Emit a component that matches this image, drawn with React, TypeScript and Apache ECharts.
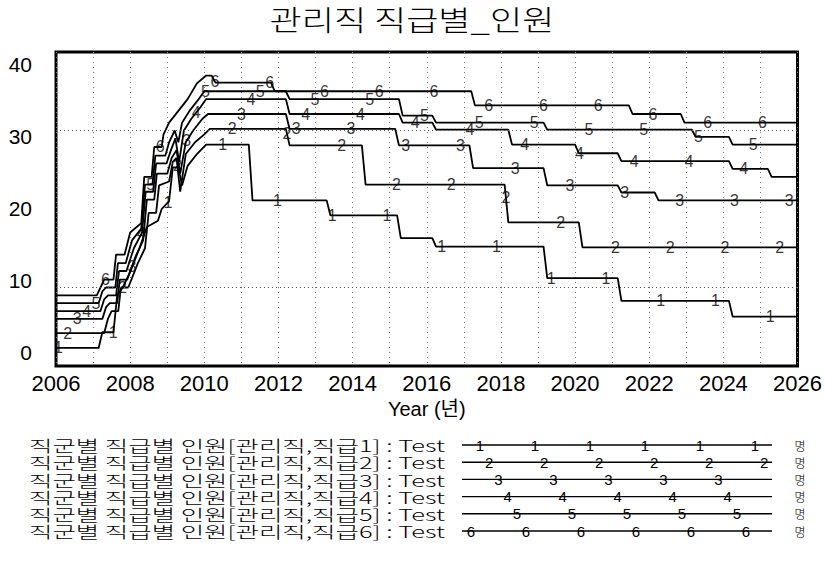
import React, { useEffect, useRef } from 'react';
import * as echarts from 'echarts';

const chartTitle = '관리직 직급별_인원';
const xAxisName = 'Year (년)';
const runName = 'Test';
const unitLabel = '명';
const seriesNames = [
  '직군별 직급별 인원[관리직,직급1]',
  '직군별 직급별 인원[관리직,직급2]',
  '직군별 직급별 인원[관리직,직급3]',
  '직군별 직급별 인원[관리직,직급4]',
  '직군별 직급별 인원[관리직,직급5]',
  '직군별 직급별 인원[관리직,직급6]',
];
const yTicks = [0, 10, 20, 30, 40];
const gridValues = [10, 30];

const s1: [number, number][] = [
  [2006, 2.3], [2007.15, 2.3], [2007.25, 4.3], [2007.55, 4.3], [2007.65, 9.0], [2007.8, 10.0],
  [2008.0, 12.0], [2008.25, 15.0], [2008.45, 17.7], [2008.75, 18.5], [2008.85, 20.0], [2009.05, 21.0],
  [2009.15, 25.3], [2009.3, 25.3], [2009.4, 23.0], [2009.55, 25.5], [2009.8, 27.0], [2010.05, 28.2],
  [2011.2, 28.2], [2011.3, 21.1], [2013.3, 21.1], [2013.4, 19.2], [2015.2, 19.2], [2015.3, 16.3],
  [2016.15, 16.3], [2016.25, 15.2], [2019.15, 15.2], [2019.25, 11.2], [2021.15, 11.2], [2021.25, 8.3],
  [2024.15, 8.3], [2024.25, 6.3], [2026, 6.3],
];
const s2: [number, number][] = [
  [2006, 4.2], [2007.3, 4.2], [2007.4, 6.0], [2007.5, 7.0], [2007.68, 7.0], [2007.75, 10.0],
  [2007.95, 10.0], [2008.2, 13.0], [2008.4, 15.0], [2008.5, 19.5], [2008.7, 19.5], [2008.78, 23.0],
  [2009.05, 23.5], [2009.15, 26.0], [2009.25, 26.5], [2009.35, 22.2], [2009.5, 27.0], [2009.75, 28.5],
  [2010.0, 29.5], [2010.15, 30.2], [2012.2, 30.2], [2012.3, 28.1], [2014.25, 28.1], [2014.35, 23.1],
  [2018.1, 23.1], [2018.2, 18.3], [2020.1, 18.3], [2020.2, 15.1], [2026, 15.1],
];
const s3: [number, number][] = [
  [2006, 6.0], [2007.25, 6.0], [2007.35, 7.5], [2007.45, 8.0], [2007.65, 8.0], [2007.72, 11.0],
  [2007.92, 11.0], [2008.15, 14.0], [2008.35, 16.0], [2008.45, 21.2], [2008.65, 21.2], [2008.72, 24.5],
  [2009.0, 24.5], [2009.12, 26.5], [2009.25, 27.5], [2009.35, 24.5], [2009.5, 28.5], [2009.7, 30.0],
  [2009.95, 31.5], [2010.1, 32.1], [2012.2, 32.1], [2012.3, 30.2], [2015.15, 30.2], [2015.25, 28.1],
  [2017.15, 28.1], [2017.25, 25.2], [2019.15, 25.2], [2019.25, 23.0], [2021.15, 23.0], [2021.25, 22.1],
  [2022.15, 22.1], [2022.25, 21.1], [2026, 21.1],
];
const s4: [number, number][] = [
  [2006, 7.0], [2007.2, 7.0], [2007.3, 8.5], [2007.4, 9.0], [2007.62, 9.0], [2007.7, 12.1],
  [2007.9, 12.1], [2008.1, 15.0], [2008.32, 17.0], [2008.42, 22.2], [2008.62, 22.2], [2008.7, 25.8],
  [2008.98, 25.8], [2009.1, 27.5], [2009.22, 29.0], [2009.32, 26.0], [2009.45, 30.0], [2009.65, 31.5],
  [2009.9, 33.0], [2010.05, 34.0], [2012.2, 34.0], [2012.3, 32.1], [2015.25, 32.1], [2015.35, 31.0],
  [2016.15, 31.0], [2016.25, 30.1], [2018.2, 30.1], [2018.3, 28.2], [2020.0, 28.2], [2020.1, 27.1],
  [2021.15, 27.1], [2021.25, 26.1], [2024.15, 26.1], [2024.25, 25.1], [2025.2, 25.1], [2025.3, 24.1],
  [2026, 24.1],
];
const s5: [number, number][] = [
  [2006, 8.0], [2007.15, 8.0], [2007.25, 9.5], [2007.35, 10.0], [2007.6, 10.0], [2007.67, 13.1],
  [2007.88, 13.1], [2008.05, 16.0], [2008.3, 17.5], [2008.4, 23.1], [2008.6, 23.1], [2008.68, 26.8],
  [2008.95, 26.8], [2009.05, 28.5], [2009.2, 30.0], [2009.3, 28.5], [2009.4, 31.0], [2009.6, 32.5],
  [2009.85, 34.0], [2010.0, 35.0], [2012.2, 35.0], [2012.3, 34.0], [2015.25, 34.0], [2015.35, 31.9],
  [2016.15, 31.9], [2016.25, 31.0], [2019.15, 31.0], [2019.25, 30.1], [2023.15, 30.1], [2023.25, 29.2],
  [2024.15, 29.2], [2024.25, 28.2], [2026, 28.2],
];
const s6: [number, number][] = [
  [2006, 9.0], [2007.1, 9.0], [2007.2, 10.0], [2007.3, 11.0], [2007.55, 11.0], [2007.62, 14.2],
  [2007.85, 14.2], [2008.0, 17.0], [2008.3, 18.2], [2008.38, 24.1], [2008.58, 24.1], [2008.65, 27.9],
  [2008.85, 27.9], [2008.9, 29.5], [2009.05, 31.0], [2009.3, 32.5], [2009.55, 34.0], [2009.8, 36.0],
  [2010.05, 37.0], [2010.2, 37.0], [2010.3, 36.1], [2011.8, 36.1], [2011.9, 35.0], [2017.2, 35.0],
  [2017.3, 33.2], [2021.45, 33.2], [2021.55, 32.1], [2022.85, 32.1], [2022.95, 31.0], [2026, 31.0],
];
const seriesData = [s1, s2, s3, s4, s5, s6];

// marker (series number) placement along the time axis
const markerStart = 2006.065;
const markerOffset = 0.2534;
const markerStep = 1.477;
// legend sample line markers (pixel layout)
const legendMarkerStart = 480;
const legendMarkerOffset = 9.2;
const legendMarkerStep = 55;

function valueAt(pts: [number, number][], t: number): number {
  for (let i = 0; i < pts.length - 1; i++) {
    const [t0, v0] = pts[i];
    const [t1, v1] = pts[i + 1];
    if (t >= t0 && t <= t1) {
      if (t1 === t0) return v1;
      return v0 + ((v1 - v0) * (t - t0)) / (t1 - t0);
    }
  }
  return pts[pts.length - 1][1];
}

function measure(text: string, font: string): number {
  const ctx = document.createElement('canvas').getContext('2d');
  if (!ctx) return text.length * 10;
  ctx.font = font;
  return ctx.measureText(text).width;
}

const KR = '"Noto Sans CJK KR", "Noto Sans", sans-serif';
const NUM = '"Liberation Sans", Arial, sans-serif';

export default function App() {
  const ref = useRef<HTMLDivElement>(null);
  useEffect(() => {
    if (!ref.current) return;
    const chart = echarts.init(ref.current, undefined, { renderer: 'svg' });

    const lineSeries: any[] = seriesData.map((d, i) => ({
      type: 'line',
      name: seriesNames[i],
      data: d,
      symbol: 'none',
      showSymbol: false,
      lineStyle: { color: '#000', width: 1.8 },
      z: 3,
      markLine: i === 0 ? {
        silent: true,
        symbol: 'none',
        label: { show: false },
        lineStyle: { color: '#555', width: 1, type: [1, 3] },
        data: gridValues.map((v) => ({ yAxis: v })),
      } : undefined,
    }));

    const markerSeries: any[] = seriesData.map((d, i) => {
      const pts: [number, number][] = [];
      for (let t = markerStart + markerOffset * i; t <= 2026.02; t += markerStep) {
        pts.push([t, valueAt(d, t)]);
      }
      return {
        type: 'scatter',
        data: pts,
        symbol: 'circle',
        symbolSize: 1,
        itemStyle: { color: 'rgba(0,0,0,0)' },
        label: {
          show: true,
          position: 'inside',
          formatter: String(i + 1),
          fontSize: 16,
          fontFamily: NUM,
          color: '#000',
        },
        z: 4,
        silent: true,
      };
    });

    const titleFont = `300 28px ${KR}`;
    const titleW = measure(chartTitle, titleFont);
    const graphics: any[] = [
      {
        type: 'text',
        x: 412,
        y: 19,
        scaleX: 285 / titleW,
        style: {
          text: chartTitle,
          fontSize: 28,
          fontWeight: 300,
          fontFamily: KR,
          fill: '#000',
          align: 'center',
          verticalAlign: 'middle',
          textAlign: 'center',
          textVerticalAlign: 'middle',
        },
      },
    ];

    const legendFont = `300 16px ${KR}`;
    seriesNames.forEach((name, i) => {
      const rowY = 445 + i * 17.2;
      const label = `${name} : ${runName}`;
      const w = measure(label, legendFont);
      graphics.push({
        type: 'text',
        x: 29,
        y: rowY,
        scaleX: 416 / w,
        style: {
          text: label,
          fontSize: 16,
          fontWeight: 300,
          fontFamily: KR,
          fill: '#000',
          align: 'left',
          verticalAlign: 'middle',
          textAlign: 'left',
          textVerticalAlign: 'middle',
        },
      });
      graphics.push({
        type: 'line',
        shape: { x1: 462, y1: rowY, x2: 772, y2: rowY },
        style: { stroke: '#000', lineWidth: 1.4 },
      });
      let mx = legendMarkerStart + legendMarkerOffset * i;
      if (mx > legendMarkerStart + legendMarkerStep - 10) mx -= legendMarkerStep;
      for (; mx <= 773; mx += legendMarkerStep) {
        graphics.push({
          type: 'text',
          x: mx,
          y: rowY,
          style: {
            text: String(i + 1),
            fontSize: 15,
            fontFamily: NUM,
            fill: '#000',
            align: 'center',
            verticalAlign: 'middle',
            textAlign: 'center',
            textVerticalAlign: 'middle',
          },
        });
      }
      graphics.push({
        type: 'text',
        x: 800,
        y: rowY,
        style: {
          text: unitLabel,
          fontSize: 12,
          fontWeight: 300,
          fontFamily: KR,
          fill: '#000',
          align: 'center',
          verticalAlign: 'middle',
          textAlign: 'center',
          textVerticalAlign: 'middle',
        },
      });
    });

    const option: any = {
      animation: false,
      backgroundColor: '#fff',
      grid: {
        left: 56,
        right: 27,
        top: 52,
        bottom: 198,
        show: true,
        borderColor: '#000',
        borderWidth: 3,
        backgroundColor: 'transparent',
      },
      xAxis: {
        type: 'value',
        min: 2006,
        max: 2026,
        interval: 2,
        name: xAxisName,
        nameLocation: 'middle',
        nameGap: 28,
        nameTextStyle: { fontSize: 20, fontFamily: `${NUM}, ${KR}`, color: '#000' },
        axisLine: { show: false },
        axisTick: { show: false },
        axisLabel: { fontSize: 22, fontFamily: NUM, color: '#000', margin: 6, formatter: (v: number) => String(v) },
        splitLine: { show: true, lineStyle: { color: '#777', width: 1, type: [1, 4] } },
        minorTick: { show: false, splitNumber: 2 },
        minorSplitLine: { show: true, lineStyle: { color: '#777', width: 1, type: [1, 4] } },
      },
      yAxis: [
        {
          type: 'value',
          min: 0,
          max: 40,
          axisLine: { show: false },
          axisTick: { show: false },
          axisLabel: { show: false },
          splitLine: { show: false },
        },
        {
          type: 'value',
          min: -1.806,
          max: 41.8,
          position: 'left',
          axisLine: { show: false },
          axisTick: { show: false },
          splitLine: { show: false },
          axisLabel: {
            margin: 24,
            fontSize: 21,
            fontFamily: NUM,
            color: '#000',
            formatter: (v: number) => {
              const hit = yTicks.find((t) => Math.abs(t - v) < 1e-6);
              return hit === undefined ? '' : String(hit);
            },
          },
        },
      ],
      series: [...lineSeries, ...markerSeries],
      graphic: graphics,
    };
    chart.setOption(option);
    return () => chart.dispose();
  }, []);
  return <div ref={ref} style={{ position: 'fixed', left: 0, top: 0, width: 825, height: 564 }} />;
}
